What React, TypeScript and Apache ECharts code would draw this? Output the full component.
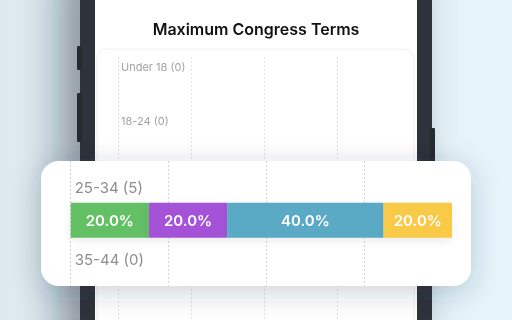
import React, { useEffect, useRef } from "react";
import * as echarts from "echarts";

// ---- data ----
const ageGroups = ["Under 18", "18-24", "25-34", "35-44"];
const respondents = [0, 0, 5, 0];
const segmentNames = ["Option 1", "Option 2", "Option 3", "Option 4"];
const segmentColors = ["#63c065", "#a452d8", "#5aaac6", "#f8ca46"];
const share1 = [0, 0, 20, 0];
const share2 = [0, 0, 20, 0];
const share3 = [0, 0, 40, 0];
const share4 = [0, 0, 20, 0];
const chartTitle = "Maximum Congress Terms";

const shares = [share1, share2, share3, share4];
const groupLabels = ageGroups.map((g, i) => `${g} (${respondents[i]})`);
const focusStart = 2; // the zoomed card shows 25-34 and 35-44; the phone shows the rows above it

const FONT = "Inter, 'Noto Sans', sans-serif";

export default function App() {
  const ref = useRef<HTMLDivElement>(null);
  useEffect(() => {
    if (!ref.current) return;
    const chart = echarts.init(ref.current, undefined, { renderer: "svg" });

    const fmt = (p: any) => (p.value > 0 ? `${Number(p.value).toFixed(1)}%` : "");

    const phoneSeries = shares.map((s, i) => ({
      type: "bar",
      name: segmentNames[i],
      xAxisIndex: 1,
      yAxisIndex: 1,
      stack: "phone",
      barWidth: 26,
      z: 4,
      itemStyle: { color: segmentColors[i] },
      label: { show: true, position: "inside", formatter: fmt, color: "#fff", fontSize: 11, fontWeight: 600, fontFamily: FONT },
      data: s.slice(0, focusStart),
    }));

    const cardSeries = shares.map((s, i) => ({
      type: "bar",
      name: segmentNames[i],
      xAxisIndex: 3,
      yAxisIndex: 3,
      stack: "card",
      barWidth: 35,
      z: 12,
      clip: true,
      itemStyle: { color: segmentColors[i], shadowBlur: 8, shadowColor: "rgba(0,0,0,0.08)", shadowOffsetY: 3 },
      label: { show: true, position: "inside", formatter: fmt, color: "#fff", fontSize: 15, fontWeight: 600, fontFamily: FONT },
      data: s.slice(focusStart),
    }));

    const hiddenCat = { type: "category", show: false, data: [""] };

    chart.setOption({
      animation: false,
      title: {
        text: chartTitle,
        left: "center",
        top: 20,
        padding: 0,
        z: 5,
        textStyle: { fontSize: 16, fontWeight: 600, color: "#111", fontFamily: FONT, lineHeight: 18 },
      },
      graphic: {
        elements: [
          {
            type: "rect", z: 0, silent: true,
            shape: { x: 0, y: 0, width: 512, height: 400 },
            style: {
              fill: new echarts.graphic.LinearGradient(0, 0, 1, 0, [
                { offset: 0, color: "#dde9ef" },
                { offset: 1, color: "#e6f4fb" },
              ]),
            },
          },
          {
            type: "rect", z: 1, silent: true,
            shape: { x: 80, y: -60, width: 352, height: 520, r: 48 },
            style: { fill: "#2e323a", shadowBlur: 40, shadowColor: "rgba(20,40,50,0.45)", shadowOffsetX: -18 },
          },
          { type: "rect", z: 1, silent: true, shape: { x: 77, y: 46, width: 5, height: 24, r: 1 }, style: { fill: "#262a31" } },
          { type: "rect", z: 1, silent: true, shape: { x: 77, y: 93, width: 5, height: 49, r: 1 }, style: { fill: "#262a31" } },
          { type: "rect", z: 1, silent: true, shape: { x: 430, y: 128, width: 5, height: 80, r: 1 }, style: { fill: "#262a31" } },
          {
            type: "rect", z: 2, silent: true,
            shape: { x: 95, y: -60, width: 322, height: 520, r: 40 },
            style: { fill: "#ffffff" },
          },
          {
            type: "rect", z: 3, silent: true,
            shape: { x: 97, y: 49, width: 317, height: 400, r: 10 },
            style: { fill: "#ffffff", stroke: "#f0f0f0", lineWidth: 1 },
          },
          {
            type: "rect", z: 10, silent: true,
            shape: { x: 41, y: 161, width: 430, height: 125, r: 18 },
            style: { fill: "#ffffff", shadowBlur: 28, shadowColor: "rgba(30,50,60,0.22)", shadowOffsetY: 6 },
          },
        ],
      },
      grid: [
        { left: 118, right: 102, top: 57, height: 343 },
        { left: 118, right: 102, top: 65.2, height: 53.6 * focusStart },
        { left: 70.7, right: 60, top: 161, height: 125 },
        { left: 70.7, right: 60, top: 184.5, height: 143.4 },
      ],
      xAxis: [
        {
          gridIndex: 0, type: "value", min: 0, max: 100, interval: 25, z: 4,
          axisLine: { show: false }, axisTick: { show: false }, axisLabel: { show: false },
          splitLine: { show: true, showMaxLine: false, lineStyle: { color: "#e2e2e2", type: [2, 2], width: 1 } },
        },
        { gridIndex: 1, type: "value", min: 0, max: 100, show: false },
        {
          gridIndex: 2, type: "value", min: 0, max: 97.5, interval: 25, z: 11,
          axisLine: { show: false }, axisTick: { show: false }, axisLabel: { show: false },
          splitLine: { show: true, showMaxLine: false, lineStyle: { color: "#d6d6d6", type: [2, 2], width: 1 } },
        },
        { gridIndex: 3, type: "value", min: 0, max: 97.5, show: false },
      ],
      yAxis: [
        { gridIndex: 0, ...hiddenCat },
        {
          gridIndex: 1, type: "category", inverse: true, data: groupLabels.slice(0, focusStart), z: 4,
          axisLine: { show: false }, axisTick: { show: false }, splitLine: { show: false },
          axisLabel: {
            inside: true, margin: 3, color: "#a2a2a2", fontSize: 11, fontFamily: FONT,
            verticalAlign: "bottom", lineHeight: 50,
          },
        },
        { gridIndex: 2, ...hiddenCat },
        {
          gridIndex: 3, type: "category", inverse: true, data: groupLabels.slice(focusStart), z: 11,
          axisLine: { show: false }, axisTick: { show: false }, splitLine: { show: false },
          axisLabel: {
            inside: true, margin: 4, color: "#8d8d8d", fontSize: 15, fontFamily: FONT,
            verticalAlign: "bottom", lineHeight: 66,
          },
        },
      ],
      series: [...phoneSeries, ...cardSeries],
    });
    return () => chart.dispose();
  }, []);
  return <div ref={ref} style={{ position: "fixed", left: 0, top: 0, width: 512, height: 400 }} />;
}
